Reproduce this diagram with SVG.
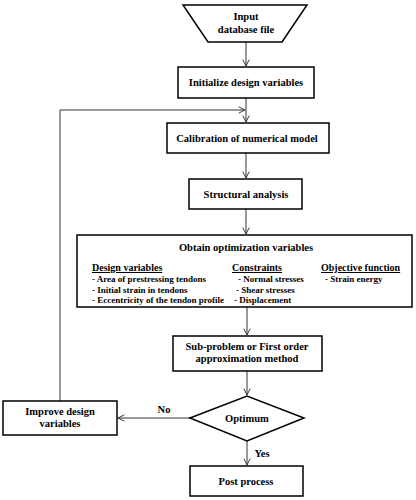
<svg xmlns="http://www.w3.org/2000/svg" width="416" height="500" viewBox="0 0 416 500">
<style>
.box{fill:#fff;stroke:#000;stroke-width:1.5}
.t{font-family:"Liberation Serif","Times New Roman",serif;font-weight:bold;font-size:10.5px;fill:#000;text-anchor:middle}
.s{font-family:"Liberation Serif","Times New Roman",serif;font-weight:bold;font-size:9px;fill:#000}
.h{font-family:"Liberation Serif","Times New Roman",serif;font-weight:bold;font-size:10px;fill:#000;text-decoration:underline}
.c{fill:none;stroke:#333;stroke-width:1}
</style>
<defs>
<marker id="a" viewBox="0 0 10 10" refX="9" refY="5" markerWidth="8" markerHeight="8" orient="auto" markerUnits="userSpaceOnUse">
<path d="M1,1 L9,5 L1,9" fill="none" stroke="#333" stroke-width="1.2"/>
</marker>
</defs>
<g id="connectors">
<line class="c" x1="246" y1="42" x2="246" y2="66" marker-end="url(#a)"/>
<line class="c" x1="246" y1="98" x2="246" y2="122" marker-end="url(#a)"/>
<polyline class="c" points="60,401 60,110 245,110" marker-end="url(#a)"/>
<line class="c" x1="246" y1="153" x2="246" y2="178" marker-end="url(#a)"/>
<line class="c" x1="246" y1="209" x2="246" y2="234" marker-end="url(#a)"/>
<line class="c" x1="247" y1="307" x2="247" y2="335" marker-end="url(#a)"/>
<line class="c" x1="247" y1="371" x2="247" y2="395" marker-end="url(#a)"/>
<line class="c" x1="190" y1="418" x2="118" y2="418" marker-end="url(#a)"/>
<line class="c" x1="247" y1="441" x2="247" y2="465" marker-end="url(#a)"/>
<text class="t" x="164" y="413">No</text>
<text class="t" x="262" y="457">Yes</text>
</g>
<g id="input">
<polygon class="box" points="183,5 307,5 282,42 208,42"/>
<text class="t" x="246" y="20">Input</text>
<text class="t" x="246" y="33">database file</text>
</g>
<g id="initialize">
<rect class="box" x="178" y="67" width="136" height="31"/>
<text class="t" x="246" y="86">Initialize design variables</text>
</g>
<g id="calibration">
<rect class="box" x="167" y="123" width="162" height="30"/>
<text class="t" x="247" y="142">Calibration of numerical model</text>
</g>
<g id="structural">
<rect class="box" x="189" y="179" width="113" height="30"/>
<text class="t" x="246" y="198">Structural analysis</text>
</g>
<g id="obtain">
<rect class="box" x="77" y="235" width="335" height="72"/>
<text class="t" x="246" y="251">Obtain optimization variables</text>
<text class="h" x="92" y="271">Design variables</text>
<text class="s" x="92" y="282">- Area of prestressing tendons</text>
<text class="s" x="92" y="292.5">- Initial strain in tendons</text>
<text class="s" x="92" y="303">- Eccentricity of the tendon profile</text>
<text class="h" x="232" y="271">Constraints</text>
<text class="s" x="238" y="282">- Normal stresses</text>
<text class="s" x="236" y="292.5">- Shear stresses</text>
<text class="s" x="234" y="303">- Displacement</text>
<text class="h" x="321" y="271">Objective function</text>
<text class="s" x="325" y="282">- Strain energy</text>
</g>
<g id="subproblem">
<rect class="box" x="173" y="336" width="149" height="35"/>
<text class="t" x="247" y="350">Sub-problem or First order</text>
<text class="t" x="247" y="362">approximation method</text>
</g>
<g id="optimum">
<polygon class="box" points="190,418 247,396 304,418 247,441"/>
<text class="t" x="247" y="422">Optimum</text>
</g>
<g id="improve">
<rect class="box" x="3" y="401" width="114" height="34"/>
<text class="t" x="60" y="415">Improve design</text>
<text class="t" x="60" y="427">variables</text>
</g>
<g id="post">
<rect class="box" x="190" y="466" width="113" height="30"/>
<text class="t" x="246" y="485">Post process</text>
</g>
</svg>
